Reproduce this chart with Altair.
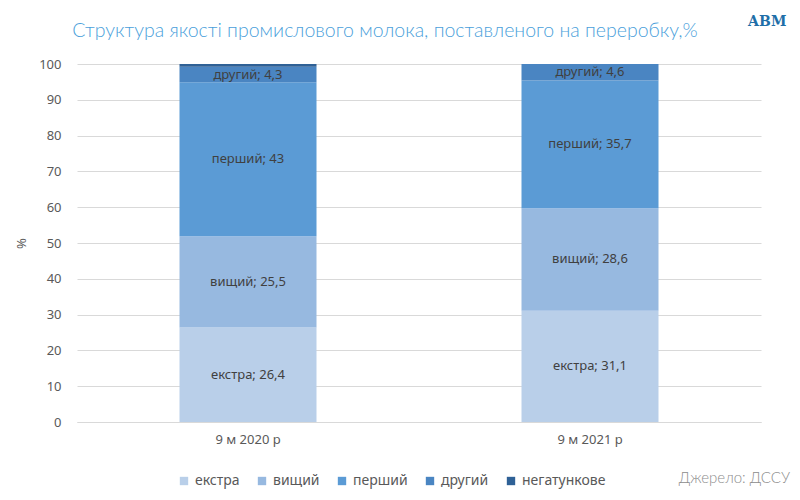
import altair as alt
import pandas as pd

periods = ["9 м 2020 р", "9 м 2021 р"]
grades = ["екстра", "вищий", "перший", "другий", "негатункове"]
values_2020 = [26.4, 25.5, 43.0, 4.3, 0.8]
values_2021 = [31.1, 28.6, 35.7, 4.6, 0.0]
colors = ["#b9cfe9", "#97b9e0", "#5b9bd5", "#4a85c2", "#2f6196"]
y_ticks = [0, 10, 20, 30, 40, 50, 60, 70, 80, 90, 100]
title_text = "Структура якості промислового молока, поставленого на переробку,%"
source_text = "Джерело: ДССУ"
logo_text = "АВМ"

rows = []
for p, vals in zip(periods, [values_2020, values_2021]):
    for i, (g, v) in enumerate(zip(grades, vals)):
        lab = f"{g}; {v:g}".replace(".", ",") if g != "негатункове" else ""
        rows.append({"period": p, "grade": g, "value": v, "idx": i, "label": lab})
df = pd.DataFrame(rows)

y_axis = alt.Axis(values=y_ticks, ticks=False, domain=False, labelOverlap=False,
                  gridColor="#d9d9d9", labelFontSize=13, labelColor="#595959",
                  labelFont="Noto Sans", labelPadding=16,
                  titleFontSize=13, titleColor="#595959", titleFont="Noto Sans",
                  titleFontWeight="normal", titlePadding=10)
x_axis = alt.Axis(labelAngle=0, labelFontSize=13, labelColor="#595959",
                  labelFont="Noto Sans", ticks=False, domainColor="#d9d9d9",
                  labelPadding=11)
y_scale = alt.Scale(domain=[0, 100], nice=False)
x_scale = alt.Scale(paddingInner=0.6, paddingOuter=0.3)

base = alt.Chart(df)

bars = base.mark_bar(size=137).encode(
    x=alt.X("period:N", title=None, sort=periods, scale=x_scale, axis=x_axis),
    y=alt.Y("value:Q", title="%", stack="zero", scale=y_scale, axis=y_axis),
    color=alt.Color("grade:N", sort=grades,
                    scale=alt.Scale(domain=grades, range=colors),
                    legend=alt.Legend(title=None, orient="none", direction="horizontal",
                                      legendX=100, legendY=410, symbolType="square",
                                      symbolSize=70, labelFontSize=14,
                                      labelColor="#595959", labelFont="Noto Sans",
                                      columnPadding=15, symbolStrokeWidth=0)),
    order=alt.Order("idx:Q", sort="ascending"),
)

labels = base.transform_stack(
    stack="value", groupby=["period"], as_=["y0", "y1"],
    sort=[alt.SortField("idx", order="ascending")]
).transform_calculate(
    mid="(datum.y0 + datum.y1) / 2"
).mark_text(fontSize=13, color="#404040", font="Noto Sans").encode(
    x=alt.X("period:N", title=None, sort=periods, scale=x_scale, axis=x_axis),
    y=alt.Y("mid:Q", title="%", scale=y_scale, axis=y_axis),
    text="label:N",
)

title = alt.Chart(pd.DataFrame({"t": [title_text]})).mark_text(
    fontSize=19.5, color="#4b9fdb", font="Lato", fontWeight=300,
    align="center", baseline="middle"
).encode(x=alt.value(308), y=alt.value(-33), text="t:N")

source = alt.Chart(pd.DataFrame({"t": [source_text]})).mark_text(
    fontSize=15, color="#8c8c8c", font="Lato", fontWeight=300, align="right"
).encode(x=alt.value(713), y=alt.value(414), text="t:N")

logo = alt.Chart(pd.DataFrame({"t": [logo_text]})).mark_text(
    fontSize=14, color="#1f6fa8", font="DejaVu Serif", fontWeight="bold"
).encode(x=alt.value(690), y=alt.value(-42), text="t:N")

chart = alt.layer(bars, labels, title, source, logo).properties(
    width=684, height=358,
    autosize=alt.AutoSizeParams(type="none"),
    padding={"left": 69, "top": 56, "right": 30, "bottom": 70},
).configure_view(stroke=None)

chart.save("out.html", embed_options={"renderer": "svg", "actions": False})
